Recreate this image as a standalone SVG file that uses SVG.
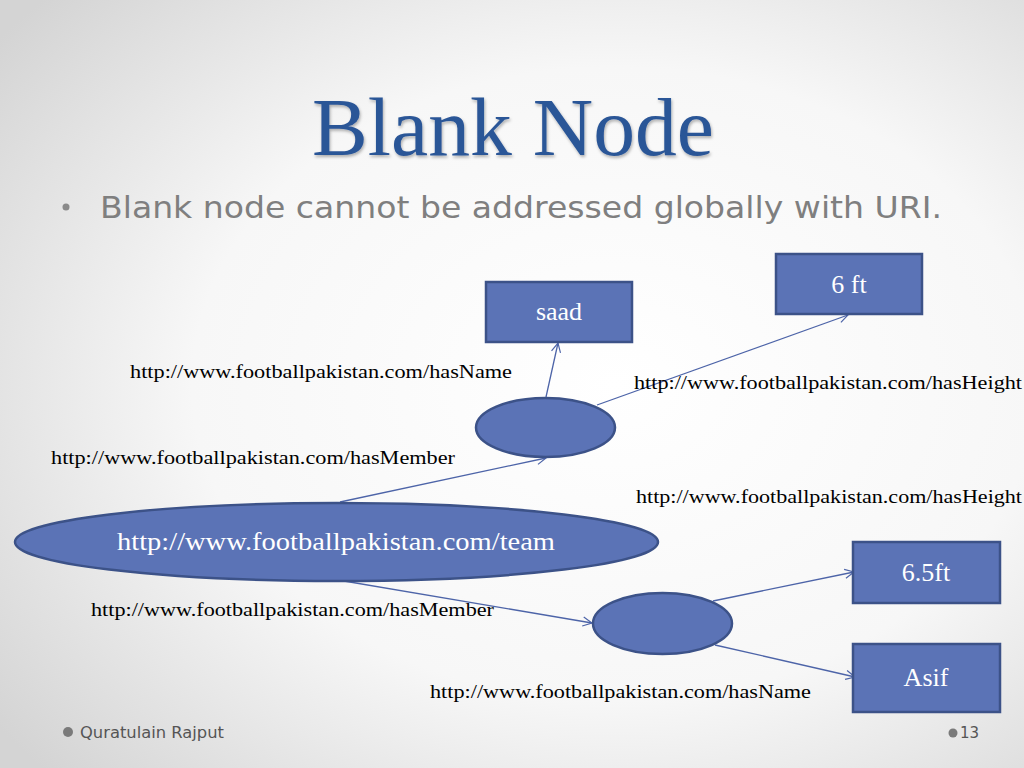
<svg xmlns="http://www.w3.org/2000/svg" width="1024" height="768" viewBox="0 0 1024 768">
<defs>
  <radialGradient id="bg" cx="0.6" cy="0.5" r="0.75">
    <stop offset="0" stop-color="#ffffff"/>
    <stop offset="0.55" stop-color="#f7f7f7"/>
    <stop offset="1" stop-color="#d4d4d4"/>
  </radialGradient>
  <filter id="tshadow" x="-10%" y="-10%" width="120%" height="130%">
    <feDropShadow dx="1" dy="2" stdDeviation="1.5" flood-color="#000000" flood-opacity="0.3"/>
  </filter>
  <marker id="arr" viewBox="0 0 12 12" refX="11" refY="6" markerWidth="11" markerHeight="11" markerUnits="userSpaceOnUse" orient="auto">
    <path d="M1,1 L11,6 L1,11" fill="none" stroke="#4d64a8" stroke-width="1.3"/>
  </marker>
  <style>
    .node { fill: #5b73b6; stroke: #3c5288; stroke-width: 2.5; }
    .ntext { font-family: "Liberation Serif", "Times New Roman", serif; font-size: 26px; fill: #ffffff; text-anchor: middle; }
    .edge { stroke: #4d64a8; stroke-width: 1.3; fill: none; marker-end: url(#arr); }
    .elabel { font-family: "Liberation Serif", "Times New Roman", serif; font-size: 19px; fill: #000000; }
    .foot { font-family: "DejaVu Sans", "Liberation Sans", sans-serif; font-size: 15px; fill: #555555; }
  </style>
</defs>
<rect x="0" y="0" width="1024" height="768" fill="url(#bg)"/>

<text x="513" y="155" text-anchor="middle" font-family="Liberation Serif, Times New Roman, serif" font-size="82" fill="#2c5697" filter="url(#tshadow)" textLength="402" lengthAdjust="spacingAndGlyphs">Blank Node</text>

<circle cx="66" cy="207" r="3.5" fill="#8a8a8a"/>
<text x="100" y="218" font-family="DejaVu Sans, Liberation Sans, sans-serif" font-size="31" fill="#7f7f7f" textLength="842" lengthAdjust="spacingAndGlyphs">Blank node cannot be addressed globally with URI.</text>

<g id="connectors">
  <line class="edge" x1="340" y1="502" x2="546" y2="458"/>
  <line class="edge" x1="546" y1="397" x2="558" y2="343"/>
  <line class="edge" x1="597" y1="405" x2="848" y2="315"/>
  <line class="edge" x1="338" y1="580" x2="592" y2="623"/>
  <line class="edge" x1="713" y1="601" x2="854" y2="572"/>
  <line class="edge" x1="715" y1="645" x2="855" y2="677"/>
</g>

<g id="labels">
  <text class="elabel" x="130" y="378" textLength="382" lengthAdjust="spacingAndGlyphs">http://www.footballpakistan.com/hasName</text>
  <text class="elabel" x="634" y="389" textLength="388" lengthAdjust="spacingAndGlyphs">http://www.footballpakistan.com/hasHeight</text>
  <text class="elabel" x="51" y="464" textLength="404" lengthAdjust="spacingAndGlyphs">http://www.footballpakistan.com/hasMember</text>
  <text class="elabel" x="636" y="503" textLength="386" lengthAdjust="spacingAndGlyphs">http://www.footballpakistan.com/hasHeight</text>
  <text class="elabel" x="91" y="616" textLength="403" lengthAdjust="spacingAndGlyphs">http://www.footballpakistan.com/hasMember</text>
  <text class="elabel" x="430" y="698" textLength="381" lengthAdjust="spacingAndGlyphs">http://www.footballpakistan.com/hasName</text>
</g>

<g id="team">
  <ellipse class="node" cx="336.5" cy="542" rx="321.5" ry="39"/>
  <text class="ntext" x="336" y="550" textLength="438" lengthAdjust="spacingAndGlyphs">http://www.footballpakistan.com/team</text>
</g>
<g id="blank1">
  <ellipse class="node" cx="545.5" cy="427.5" rx="69.5" ry="29.5"/>
</g>
<g id="blank2">
  <ellipse class="node" cx="662.5" cy="623.5" rx="69.5" ry="30.5"/>
</g>
<g id="saad">
  <rect class="node" x="486" y="282" width="146" height="60"/>
  <text class="ntext" x="559" y="320">saad</text>
</g>
<g id="sixft">
  <rect class="node" x="776" y="254" width="146" height="60"/>
  <text class="ntext" x="849" y="293">6 ft</text>
</g>
<g id="sixfiveft">
  <rect class="node" x="853" y="542" width="147" height="61"/>
  <text class="ntext" x="926" y="581">6.5ft</text>
</g>
<g id="asif">
  <rect class="node" x="853" y="644" width="147" height="68"/>
  <text class="ntext" x="926" y="686">Asif</text>
</g>

<g id="footer">
  <circle cx="68" cy="732" r="5" fill="#7a7a7a"/>
  <text class="foot" x="80" y="738" textLength="144" lengthAdjust="spacingAndGlyphs">Quratulain Rajput</text>
  <circle cx="953" cy="733" r="4.5" fill="#7a7a7a"/>
  <text class="foot" x="960" y="738">13</text>
</g>
</svg>
